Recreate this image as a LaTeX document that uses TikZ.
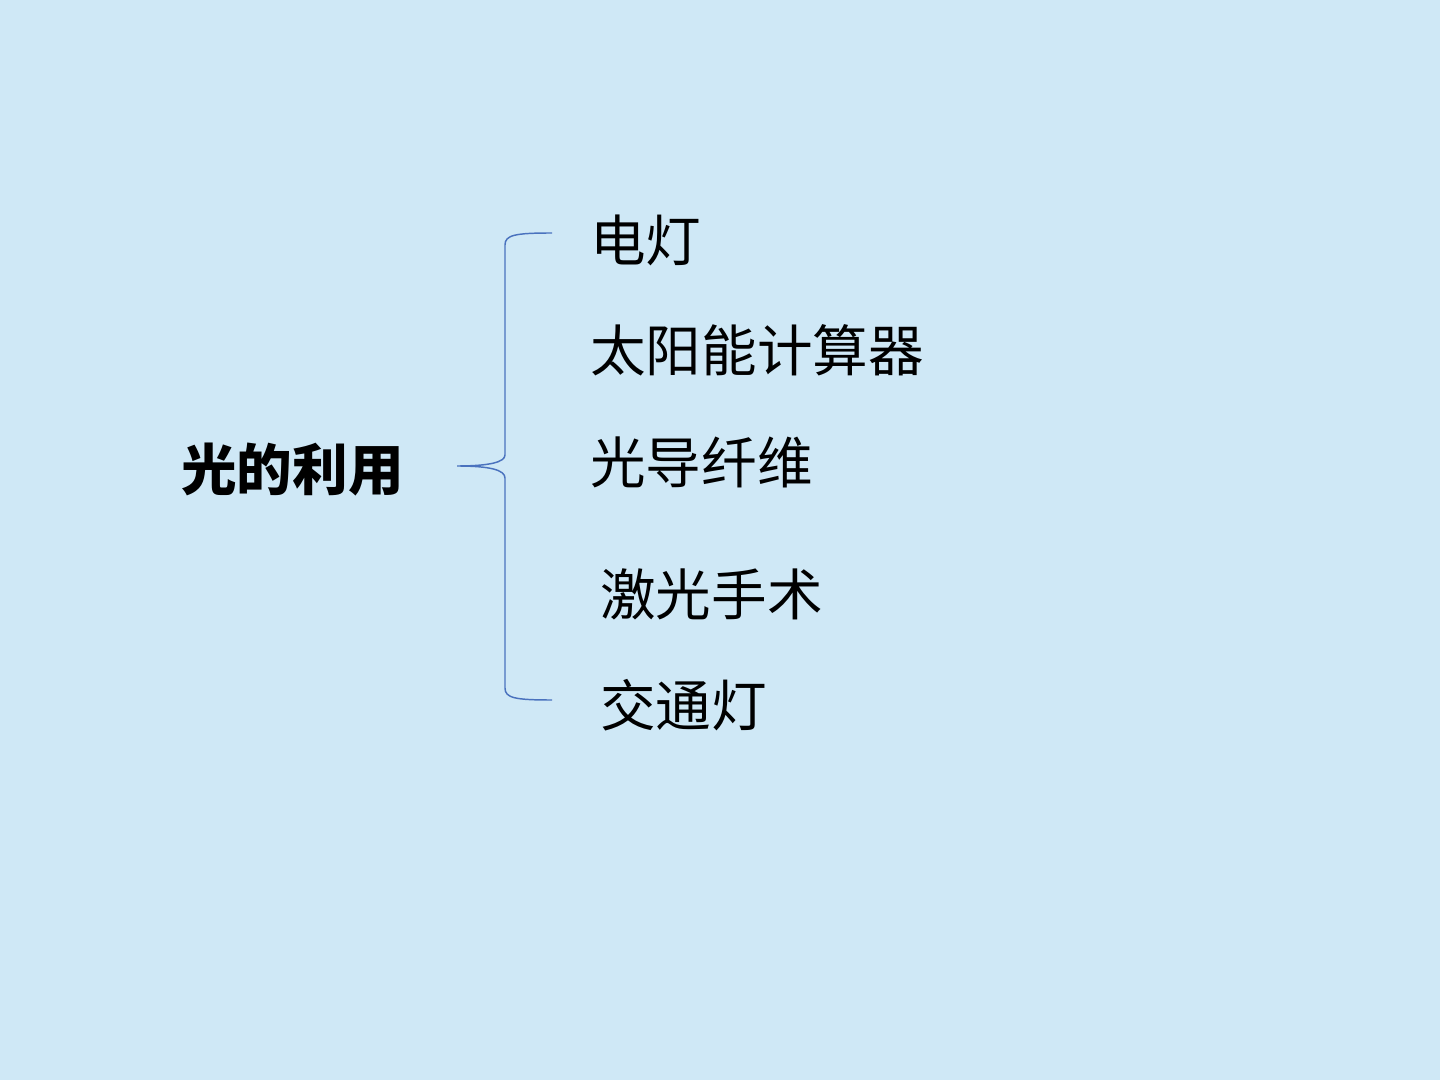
\documentclass[tikz,border=0pt]{standalone}
\usepackage{fontspec}
\newfontfamily\cjk{Noto Sans CJK SC}
\definecolor{bgblue}{RGB}{207,232,246}
\definecolor{bracecol}{RGB}{74,114,190}
\begin{document}
\begin{tikzpicture}[x=0.75pt,y=-0.75pt,
  item/.style={anchor=west,inner sep=0pt,font=\cjk\fontsize{41.7}{48}\selectfont,text=black},
  title/.style={anchor=west,inner sep=0pt,font=\cjk\bfseries\fontsize{41.7}{48}\selectfont,text=black},
  bracepath/.style={draw=bracecol,line width=1.1pt}]
\fill[bgblue] (0,0) rectangle (1440,1080);
\useasboundingbox (0,0) rectangle (1440,1080);
\node[title] (root) at (181,470) {光的利用};
\node[item] (a) at (590,240) {电灯};
\node[item] (b) at (590,350) {太阳能计算器};
\node[item] (c) at (590,462) {光导纤维};
\node[item] (d) at (600,594) {激光手术};
\node[item] (e) at (600,705) {交通灯};
\coordinate (tip) at (457,466);
\coordinate (top) at (552,233);
\coordinate (bot) at (552,700);
\draw[bracepath] (top) .. controls (515,233) and (505,235) .. (505,245) -- (505,455)
  .. controls (505,462) and (490,466) .. (tip)
  .. controls (490,466) and (505,470) .. (505,478) -- (505,688)
  .. controls (505,698) and (515,700) .. (bot);
\end{tikzpicture}
\end{document}
